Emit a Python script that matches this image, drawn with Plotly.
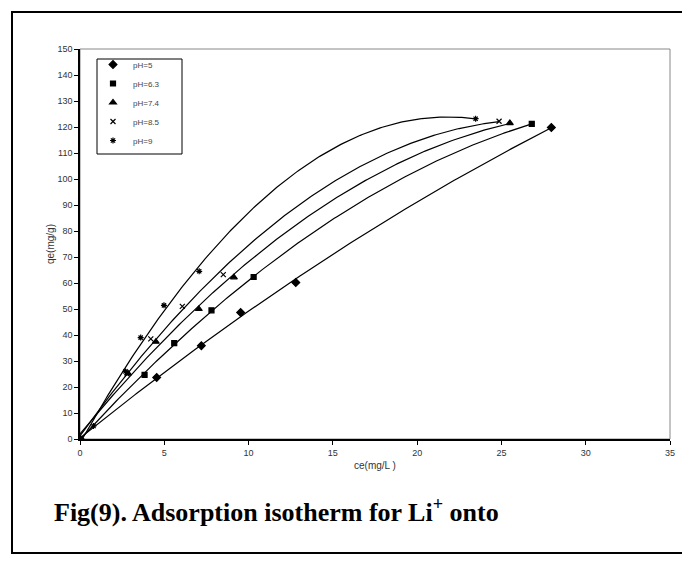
import numpy as np
import plotly.graph_objects as go

# Data (ce in mg/L, qe in mg/g)
labels = ["pH=5", "pH=6.3", "pH=7.4", "pH=8.5", "pH=9"]
ce_ph5 = [0, 4.55, 7.2, 9.53, 12.8, 27.96]
qe_ph5 = [0, 23.7, 35.9, 48.7, 60.2, 119.8]
ce_ph63 = [0, 3.83, 5.59, 7.8, 10.3, 26.8]
qe_ph63 = [0, 24.7, 36.9, 49.5, 62.3, 121.2]
ce_ph74 = [0, 2.85, 4.5, 7.05, 9.13, 25.5]
qe_ph74 = [0, 25.2, 37.4, 50.0, 62.2, 121.5]
ce_ph85 = [0, 2.8, 4.2, 6.07, 8.5, 24.86]
qe_ph85 = [0, 25.0, 38.5, 51.0, 63.2, 122.2]
ce_ph9 = [0, 0.8, 2.7, 3.6, 4.98, 7.07, 23.47]
qe_ph9 = [0, 5.0, 26.0, 39.0, 51.4, 64.5, 123.2]

x_ticks = [0, 5, 10, 15, 20, 25, 30, 35]
y_ticks = list(range(0, 151, 10))

series = [
    (labels[0], ce_ph5, qe_ph5, "diamond", 6),
    (labels[1], ce_ph63, qe_ph63, "square", 5),
    (labels[2], ce_ph74, qe_ph74, "triangle-up", 6),
    (labels[3], ce_ph85, qe_ph85, "x-thin-open", 5),
    (labels[4], ce_ph9, qe_ph9, "asterisk-open", 5),
]

fig = go.Figure()

# polynomial (2nd order) trendlines, as in the original spreadsheet chart
for name, xs, ys, sym, sz in series:
    coef = np.polyfit(xs, ys, 2)
    xf = np.linspace(0, max(xs), 200)
    fig.add_trace(go.Scatter(x=xf, y=np.polyval(coef, xf), mode="lines",
                             line=dict(color="black", width=1.2),
                             showlegend=False, hoverinfo="skip"))

for name, xs, ys, sym, sz in series:
    fig.add_trace(go.Scatter(x=xs, y=ys, mode="markers", name=name,
                             marker=dict(symbol=sym, size=sz, color="black",
                                         line=dict(color="black", width=1.2))))

# page has an 8px body margin; work in page pixels and convert
OFF = 8
W, H = 690 - OFF, 563 - OFF
L, R, T, B = 80 - OFF, 670 - OFF, 49 - OFF, 439 - OFF

def px(X):
    return (X - OFF - L) / (R - L)

def py(Y):
    return (B - (Y - OFF)) / (B - T)

fig.update_layout(
    width=W, height=H,
    margin=dict(l=L, r=W - R, t=T, b=H - B),
    paper_bgcolor="white", plot_bgcolor="white",
    font=dict(family="Liberation Sans, Arial", size=9, color="#333"),
    showlegend=True,
    legend=dict(x=px(93), y=py(50), xanchor="left", yanchor="top",
                bgcolor="rgba(0,0,0,0)", borderwidth=0,
                font=dict(size=8, color="#444"), itemwidth=30),
    xaxis=dict(range=[0, 35], tickvals=x_ticks, ticks="outside", ticklen=4,
               tickcolor="black", showline=True, linecolor="black", linewidth=2,
               showgrid=False, zeroline=False,
               title=dict(text="ce(mg/L )", font=dict(size=10, color="#333"), standoff=5),
               tickfont=dict(size=9, color="#333")),
    yaxis=dict(range=[0, 150], tickvals=y_ticks, ticks="outside", ticklen=4,
               tickcolor="black", showline=True, linecolor="black", linewidth=1.5,
               showgrid=False, zeroline=False,
               title=dict(text="qe(mg/g)", font=dict(size=10, color="#333"), standoff=1),
               tickfont=dict(size=9, color="#333")),
    shapes=[
        dict(type="rect", xref="paper", yref="paper", x0=0, x1=1, y0=0, y1=1,
             line=dict(color="#888", width=1), layer="below"),
        dict(type="rect", xref="paper", yref="paper",
             x0=px(97), x1=px(182), y0=py(154), y1=py(59),
             line=dict(color="black", width=1), fillcolor="white", layer="below"),
        dict(type="rect", xref="paper", yref="paper",
             x0=px(12), x1=px(683), y0=py(553), y1=py(12),
             line=dict(color="black", width=2)),
    ],
    annotations=[
        dict(xref="paper", yref="paper", x=px(52), y=py(510), xanchor="left",
             yanchor="middle", showarrow=False,
             text="<b>Fig(9). Adsorption isotherm for Li<sup>+</sup> onto</b>",
             font=dict(family="Liberation Serif, Times New Roman", size=26, color="black")),
    ],
)

fig.write_html("out.html")
